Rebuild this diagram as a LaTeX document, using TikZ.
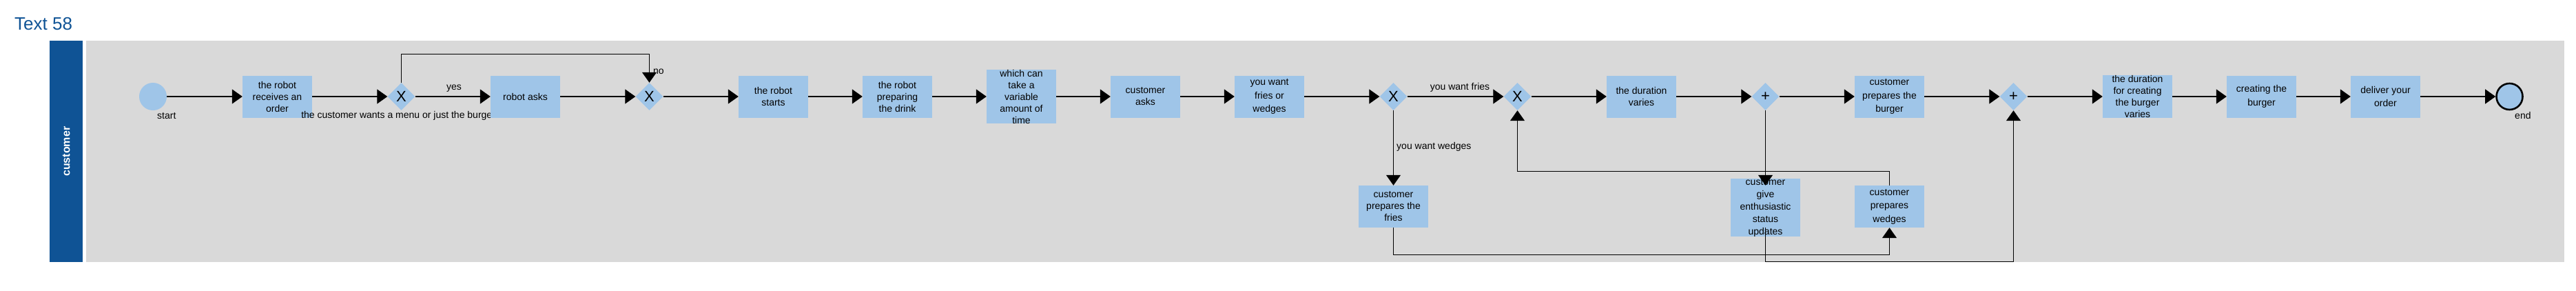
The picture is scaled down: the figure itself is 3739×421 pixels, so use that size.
\documentclass[tikz,border=0pt]{standalone}
\usepackage{fontspec}
\setmainfont{Liberation Sans}
\usetikzlibrary{shapes.geometric,arrows.meta}
\definecolor{laneblue}{RGB}{15,83,149}
\definecolor{taskblue}{RGB}{159,197,232}
\definecolor{poolgray}{RGB}{217,217,217}
\begin{document}
\begin{tikzpicture}[x=1pt,y=-1pt,
  task/.style={rectangle,fill=taskblue,minimum width=101pt,minimum height=61pt,inner sep=0pt,align=center,font=\fontsize{14}{17}\selectfont},
  taskw/.style={task,font=\fontsize{14}{19.5}\selectfont},
  gate/.style={diamond,fill=taskblue,minimum width=40pt,minimum height=40pt,inner sep=0pt,font=\fontsize{22}{22}\selectfont},
  flow/.style={line width=1.2pt,-{Triangle[length=15pt,width=21pt]}},
  lbl/.style={inner sep=0pt,font=\fontsize{14}{17}\selectfont}]
\useasboundingbox (0,0) rectangle (3739,421);
% pool and lane
\node[fill=poolgray,minimum width=3597pt,minimum height=321pt,inner sep=0pt,anchor=north west] (pool) at (125,59) {};
\node[fill=laneblue,minimum width=48pt,minimum height=321pt,inner sep=0pt,anchor=north west] (lane) at (72,59) {};
\node[rotate=90,text=white,inner sep=0pt,font=\fontsize{16}{16}\selectfont\bfseries] (lanelbl) at (lane.center) {customer};
\node[anchor=base west,text=laneblue,inner sep=0pt,font=\fontsize{26}{30}\selectfont] (title) at (21,43) {Text 58};
% events
\node[circle,fill=taskblue,minimum size=40pt,inner sep=0pt] (start) at (222,140) {};
\node[lbl,anchor=base west] (startl) at (228,172) {start};
\node[circle,fill=taskblue,draw=black,line width=2.6pt,minimum size=38pt,inner sep=0pt] (stop) at (3642.5,140) {};
\node[lbl,anchor=base west] (stopl) at (3650,172) {end};
% top row
\node[task] (t1) at (402.5,140) {the robot\\receives an\\order};
\node[gate] (g1) at (582.5,140) {X};
% label drawn over t1 but under t2
\node[lbl,anchor=base] (lq) at (582,171) {the customer wants a menu or just the burger?};
\node[task] (t2) at (762.5,140) {robot asks};
\node[gate] (g2) at (942.5,140) {X};
\node[task] (t3) at (1122.5,140) {the robot\\starts};
\node[task] (t4) at (1302.5,140) {the robot\\preparing\\the drink};
\node[task] (t5) at (1482.5,140) {which can\\take a\\variable\\amount of\\time};
\node[task] (t6) at (1662.5,140) {customer\\asks};
\node[taskw] (t7) at (1842.5,140) {you want\\fries or\\wedges};
\node[gate] (g3) at (2022.5,140) {X};
\node[gate] (g4) at (2202.5,140) {X};
\node[task] (t8) at (2382.5,140) {the duration\\varies};
\node[gate] (g5) at (2562.5,140) {+};
\node[taskw] (t9) at (2742.5,140) {customer\\prepares the\\burger};
\node[gate] (g6) at (2922.5,140) {+};
\node[task] (t10) at (3102.5,140) {the duration\\for creating\\the burger\\varies};
\node[taskw] (t11) at (3282.5,140) {creating the\\burger};
\node[taskw] (t12) at (3462.5,140) {deliver your\\order};
% bottom row
\node[task] (fries) at (2022.5,299.5) {customer\\prepares the\\fries};
\node[task,font=\fontsize{14}{18}\selectfont] (enth) at (2562.5,301) {customer\\give\\enthusiastic\\status\\updates};
\node[taskw] (wedges) at (2742.5,299.5) {customer\\prepares\\wedges};
% edge labels
\node[lbl,anchor=base] (lyes) at (659,130) {yes};
\node[lbl,anchor=base west] (lno) at (948,107) {no};
\node[lbl,anchor=base] (lfries) at (2119,130) {you want fries};
\node[lbl,anchor=base west] (lwedges) at (2027,216) {you want wedges};
% connectors
\draw[flow] (start) -- (t1);
\draw[flow] (t1) -- (g1);
\draw[flow] (g1) -- (t2);
\draw[flow] (g1.north) -- ++(0,-41) -| (g2.north);
\draw[flow] (t2) -- (g2);
\draw[flow] (g2) -- (t3);
\draw[flow] (t3) -- (t4);
\draw[flow] (t4) -- (t5);
\draw[flow] (t5) -- (t6);
\draw[flow] (t6) -- (t7);
\draw[flow] (t7) -- (g3);
\draw[flow] (g3) -- (g4);
\draw[flow] (g3.south) -- (fries.north);
\draw[flow] (g4) -- (t8);
\draw[flow] (t8) -- (g5);
\draw[flow] (g5) -- (t9);
\draw[flow] (g5.south) -- (enth.north |- fries.north);
\draw[flow] (t9) -- (g6);
\draw[flow] (g6) -- (t10);
\draw[flow] (t10) -- (t11);
\draw[flow] (t11) -- (t12);
\draw[flow] (t12) -- (stop);
\draw[flow] (wedges.north) -- ++(0,-20) -| (g4.south);
\draw[flow] (fries.south) -- ++(0,39) -| (wedges.south);
\draw[flow] (enth.south |- fries.south) -- ++(0,49) -| (g6.south);
\end{tikzpicture}
\end{document}
